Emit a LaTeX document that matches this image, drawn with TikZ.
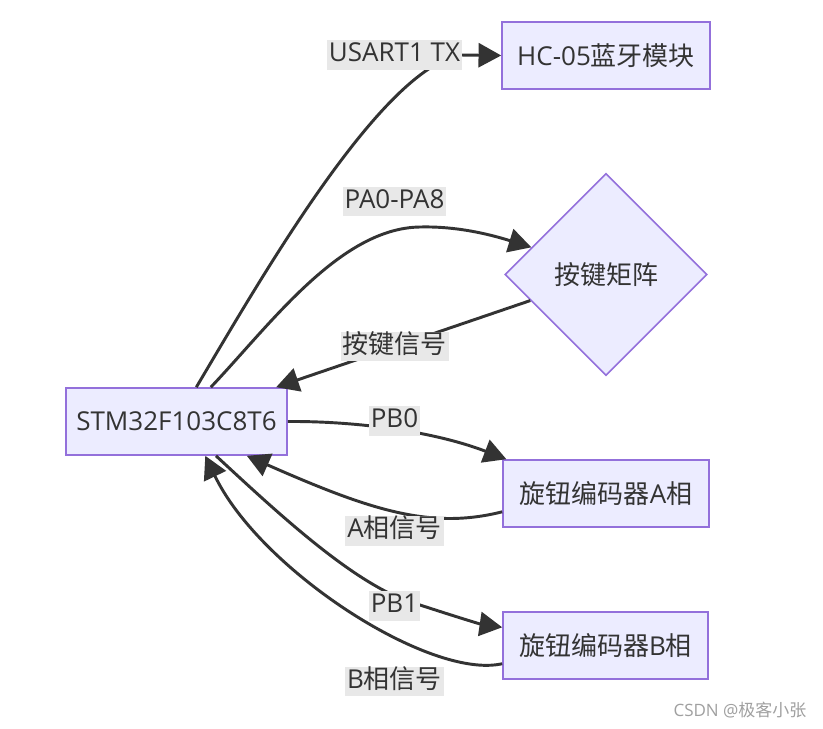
\documentclass[tikz,border=0pt]{standalone}
\usepackage{fontspec}
\setmainfont{Open Sans}
\newfontfamily\cjk{Noto Sans CJK SC}
\usetikzlibrary{shapes.geometric,arrows.meta}
\definecolor{nodefill}{HTML}{ECECFF}
\definecolor{nodeline}{HTML}{9370DB}
\definecolor{edgecol}{HTML}{333333}
\definecolor{lblbg}{HTML}{E8E8E8}
\definecolor{txt}{HTML}{333333}
\definecolor{wmcol}{HTML}{A0A0A0}
\newcommand{\zh}[1]{{\cjk #1}}
\begin{document}
\begin{tikzpicture}[x=0.75pt,y=-0.75pt,
  mainfont/.style={font=\fontsize{19.5}{23}\selectfont},
  box/.style={draw=nodeline, fill=nodefill, line width=1.2pt, minimum height=50.25pt,
    inner sep=0pt, text=txt, mainfont},
  kdiamond/.style={diamond, aspect=1, draw=nodeline, fill=nodefill, line width=1.2pt,
    minimum width=151.5pt, minimum height=151.5pt, inner sep=0pt, text=txt, mainfont},
  edge/.style={draw=edgecol, line width=2.2pt, -{Triangle[length=17pt,width=18pt]}},
  lbl/.style={fill=lblbg, text=txt, inner xsep=1.5pt, inner ysep=1pt,
    text height=15pt, text depth=5pt, mainfont}
]
\useasboundingbox[fill=white] (0,0) rectangle (823,728);

% nodes
\node[box, minimum width=165.75pt] (stm) at (176.5,421.5) {STM32F103C8T6};
\node[box, minimum width=156pt] (hc) at (606,55.5) {HC-05\zh{蓝牙模块}};
\node[kdiamond] (kp) at (606,274.5) {\zh{按键矩阵}};
\node[box, minimum width=154.5pt] (ea) at (606,493.5) {\zh{旋钮编码器}A\zh{相}};
\node[box, minimum width=153.75pt] (eb) at (605.5,645.5) {\zh{旋钮编码器}B\zh{相}};

% connectors
\draw[edge] (stm.60) .. controls (260,280) and (380,70) .. (460,55) -- (hc.west);
\draw[edge] (stm.45) .. controls (270,325) and (340,228) .. (420,227)
   .. controls (460,226) and (495,236) .. (kp.160);
\draw[edge] (kp.199) -- (stm.19);
\draw[edge] (stm.east) .. controls (350,421) and (430,430) .. (ea.161);
\draw[edge] (ea.190) .. controls (430,530) and (370,510) .. (stm.-26);
\draw[edge] (stm.-41) .. controls (280,515) and (360,590) .. (420,605)
   .. controls (460,618) and (480,624) .. (eb.170);
\draw[edge] (eb.190) .. controls (430,680) and (260,570) .. (stm.-50);

% edge labels
\node[lbl] (l1) at (394.5,55) {USART1 TX};
\node[lbl] (l2) at (394.5,201.5) {PA0-PA8};
\node[lbl] (l3) at (394.5,346.5) {\zh{按键信号}};
\node[lbl] (l4) at (394.5,421) {PB0};
\node[lbl] (l5) at (394.5,531) {A\zh{相信号}};
\node[lbl] (l6) at (394.5,606) {PB1};
\node[lbl] (l7) at (394.5,681.5) {B\zh{相信号}};

% watermark
\node[text=wmcol, font=\fontsize{12.75}{15}\selectfont] (wm) at (740,710) {CSDN @\zh{极客小张}};
\end{tikzpicture}
\end{document}
